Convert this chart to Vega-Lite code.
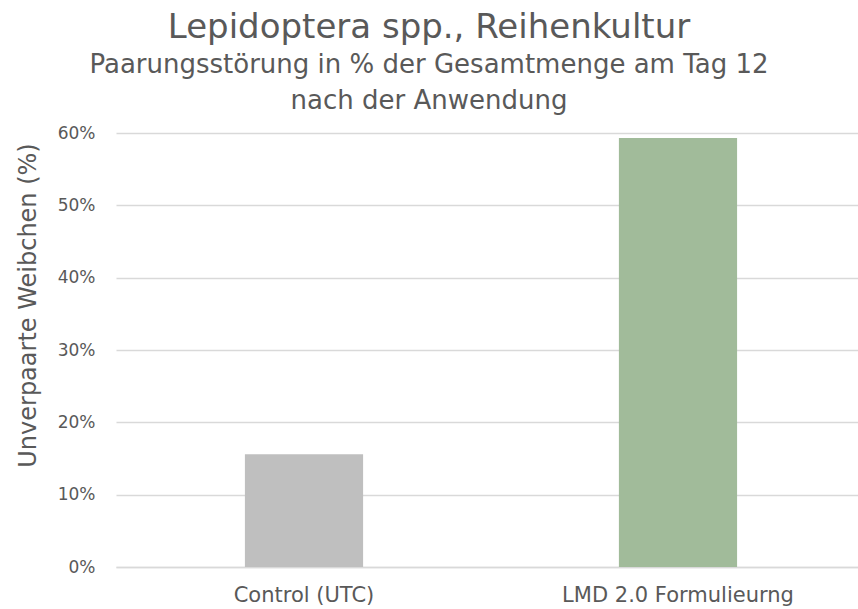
{
  "$schema": "https://vega.github.io/schema/vega-lite/v6.json",
  "autosize": {"type": "none"},
  "padding": {"left": 116, "top": 133, "right": 0, "bottom": 42},
  "width": 742,
  "height": 434,
  "background": "white",
  "title": {
    "text": "Lepidoptera spp., Reihenkultur",
    "subtitle": ["Paarungsstörung in % der Gesamtmenge am Tag 12", "nach der Anwendung"],
    "anchor": "middle",
    "frame": "group",
    "dx": -58,
    "font": "DejaVu Sans",
    "fontSize": 34,
    "fontWeight": "normal",
    "color": "#595959",
    "subtitleFont": "DejaVu Sans",
    "subtitleFontSize": 26,
    "subtitleColor": "#595959",
    "subtitleLineHeight": 36,
    "subtitlePadding": 7,
    "offset": 10
  },
  "data": {
    "values": [
      {"Gruppe": "Control (UTC)", "Anteil": 0.156},
      {"Gruppe": "LMD 2.0 Formulieurng", "Anteil": 0.593}
    ]
  },
  "mark": {"type": "bar"},
  "encoding": {
    "x": {
      "field": "Gruppe",
      "type": "nominal",
      "sort": null,
      "scale": {"paddingInner": 0.684, "paddingOuter": 0.334, "align": 0.516},
      "axis": {
        "title": null,
        "labelAngle": 0,
        "labelLimit": 0,
        "labelFont": "DejaVu Sans",
        "labelFontSize": 21,
        "labelColor": "#595959",
        "labelPadding": 17,
        "ticks": false,
        "domainColor": "#D9D9D9",
        "domainWidth": 1.5
      }
    },
    "y": {
      "field": "Anteil",
      "type": "quantitative",
      "scale": {"domain": [0, 0.6], "nice": false},
      "axis": {
        "title": "Unverpaarte Weibchen (%)",
        "titleFont": "DejaVu Sans",
        "titleFontSize": 24,
        "titleFontWeight": "normal",
        "titleColor": "#595959",
        "titleY": 172,
        "titlePadding": 17,
        "format": ".0%",
        "values": [0, 0.1, 0.2, 0.3, 0.4, 0.5, 0.6],
        "labelOverlap": false,
        "labelFont": "DejaVu Sans",
        "labelFontSize": 17,
        "labelColor": "#595959",
        "labelPadding": 21,
        "ticks": false,
        "domain": false,
        "grid": true,
        "gridColor": "#D9D9D9",
        "gridWidth": 1.5
      }
    },
    "color": {
      "field": "Gruppe",
      "type": "nominal",
      "scale": {"domain": ["Control (UTC)", "LMD 2.0 Formulieurng"], "range": ["#BFBFBF", "#A1BB9A"]},
      "legend": null
    }
  },
  "config": {"view": {"stroke": null}}
}
